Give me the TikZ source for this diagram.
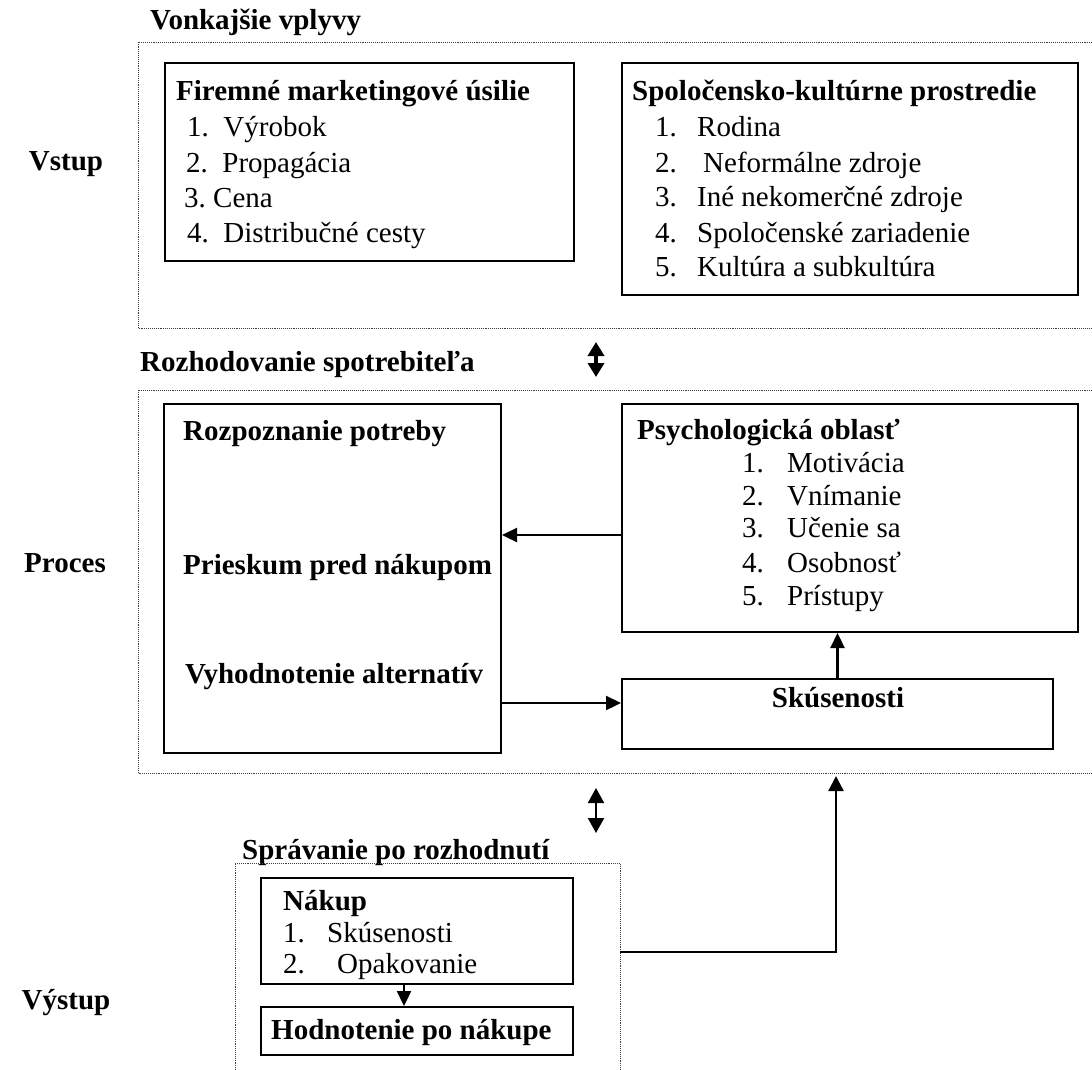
\documentclass[tikz,border=0pt]{standalone}
\usepackage{fontspec}
\setmainfont{Liberation Serif}
\usetikzlibrary{arrows.meta}
\begin{document}
\begin{tikzpicture}[x=1pt,y=-1pt,
  dotline/.style={draw=black!75, densely dotted, line width=0.9pt},
  solidbox/.style={draw, line width=2pt, inner sep=0pt, anchor=north west},
  txt/.style={font=\fontsize{29}{34}\selectfont, inner sep=0pt, anchor=west, text height=20pt, text depth=6pt},
  btxt/.style={txt, font=\fontsize{29}{34}\selectfont\bfseries},
  arr/.style={line width=2.3pt, -{Triangle[length=15pt,width=14pt]}},
]
\useasboundingbox (0,0) rectangle (1092,1070);
\fill[white] (0,0) rectangle (1092,1070);

% section labels
\node[btxt] (vonk) at (150,23) {Vonkajšie vplyvy};
\node[btxt] (rozh) at (140,364) {Rozhodovanie spotrebiteľa};
\node[btxt] (sprav) at (242,852) {Správanie po rozhodnutí};
\node[btxt, anchor=center] (vstup) at (66,163) {Vstup};
\node[btxt, anchor=center] (proces) at (65,565) {Proces};
\node[btxt, anchor=center] (vystup) at (66,1002) {Výstup};

% dotted regions
\draw[dotline] (1092,42) -- (138,42) -- (138,328) -- (1092,328);
\draw[dotline] (1092,390) -- (138,390) -- (138,773) -- (1092,773);
\draw[dotline] (235,1070) -- (235,863) -- (620,863) -- (620,1070);

% top boxes
\node[solidbox, minimum width=409pt, minimum height=198pt] (firm) at (164,62) {};
\node[btxt] (firmT) at (176,94) {Firemné marketingové úsilie};
\node[txt] (f1) at (187,130) {1.\ \ Výrobok};
\node[txt] (f2) at (186,165) {2.\ \ Propagácia};
\node[txt] (f3) at (184,200) {3.\ Cena};
\node[txt] (f4) at (187,235) {4.\ \ Distribučné cesty};

\node[solidbox, minimum width=456pt, minimum height=232pt] (spol) at (621,62) {};
\node[btxt] (spolT) at (632,94) {Spoločensko-kultúrne prostredie};
\node[txt] (s1n) at (655,130) {1.};
\node[txt] (s1) at (697,130) {Rodina};
\node[txt] (s2n) at (655,165) {2.};
\node[txt] (s2) at (703,165) {Neformálne zdroje};
\node[txt] (s3n) at (655,199) {3.};
\node[txt] (s3) at (697,199) {Iné nekomerčné zdroje};
\node[txt] (s4n) at (655,235) {4.};
\node[txt] (s4) at (697,235) {Spoločenské zariadenie};
\node[txt] (s5n) at (655,269) {5.};
\node[txt] (s5) at (697,269) {Kultúra a subkultúra};

% middle boxes
\node[solidbox, minimum width=337pt, minimum height=349pt] (rozp) at (163,403) {};
\node[btxt] (rozp1) at (183,433) {Rozpoznanie potreby};
\node[btxt] (rozp2) at (183,567) {Prieskum pred nákupom};
\node[btxt] (rozp3) at (185,676) {Vyhodnotenie alternatív};

\node[solidbox, minimum width=456pt, minimum height=228pt] (psy) at (621,403) {};
\node[btxt] (psyT) at (637,432) {Psychologická oblasť};
\node[txt] (p1n) at (742,465) {1.};
\node[txt] (p1) at (787,465) {Motivácia};
\node[txt] (p2n) at (742,498) {2.};
\node[txt] (p2) at (787,498) {Vnímanie};
\node[txt] (p3n) at (742,530) {3.};
\node[txt] (p3) at (787,530) {Učenie sa};
\node[txt] (p4n) at (742,565) {4.};
\node[txt] (p4) at (787,565) {Osobnosť};
\node[txt] (p5n) at (742,598) {5.};
\node[txt] (p5) at (787,598) {Prístupy};

\node[solidbox, minimum width=431pt, minimum height=70pt] (skus) at (621,678) {};
\node[btxt, anchor=center] (skusT) at (838,700) {Skúsenosti};

% bottom boxes
\node[solidbox, minimum width=312pt, minimum height=106pt] (nak) at (260,877) {};
\node[btxt] (nakT) at (283,903) {Nákup};
\node[txt] (n1n) at (283,935) {1.};
\node[txt] (n1) at (327,935) {Skúsenosti};
\node[txt] (n2n) at (283,966) {2.};
\node[txt] (n2) at (337,966) {Opakovanie};

\node[solidbox, minimum width=312pt, minimum height=48pt] (hod) at (260,1006) {};
\node[btxt] (hodT) at (271,1032) {Hodnotenie po nákupe};

% connectors
\draw[arr] (psy.west |- 0,535) -- (rozp.east |- 0,535);
\draw[arr] (rozp.east |- 0,703) -- (skus.west |- 0,703);
\draw[arr] (skus.north) -- (psy.south -| skus.north);
\draw[arr] (nak.south -| 404,0) -- (hod.north -| 404,0);
\coordinate (bx) at (620,952);
\coordinate (up) at (836,776);
\draw[arr, -{Triangle[length=15pt,width=15pt]}] (bx) -- (up |- bx) -- (up);

% double arrows
\coordinate (d1a) at (596,342);
\coordinate (d1b) at (596,377);
\draw[line width=4pt, {Triangle[length=14pt,width=16pt]}-{Triangle[length=14pt,width=16pt]}] (d1a) -- (d1b);
\coordinate (d2a) at (596,788);
\coordinate (d2b) at (596,833);
\draw[line width=2pt, {Triangle[length=15pt,width=16pt]}-{Triangle[length=15pt,width=16pt]}] (d2a) -- (d2b);
\end{tikzpicture}
\end{document}
